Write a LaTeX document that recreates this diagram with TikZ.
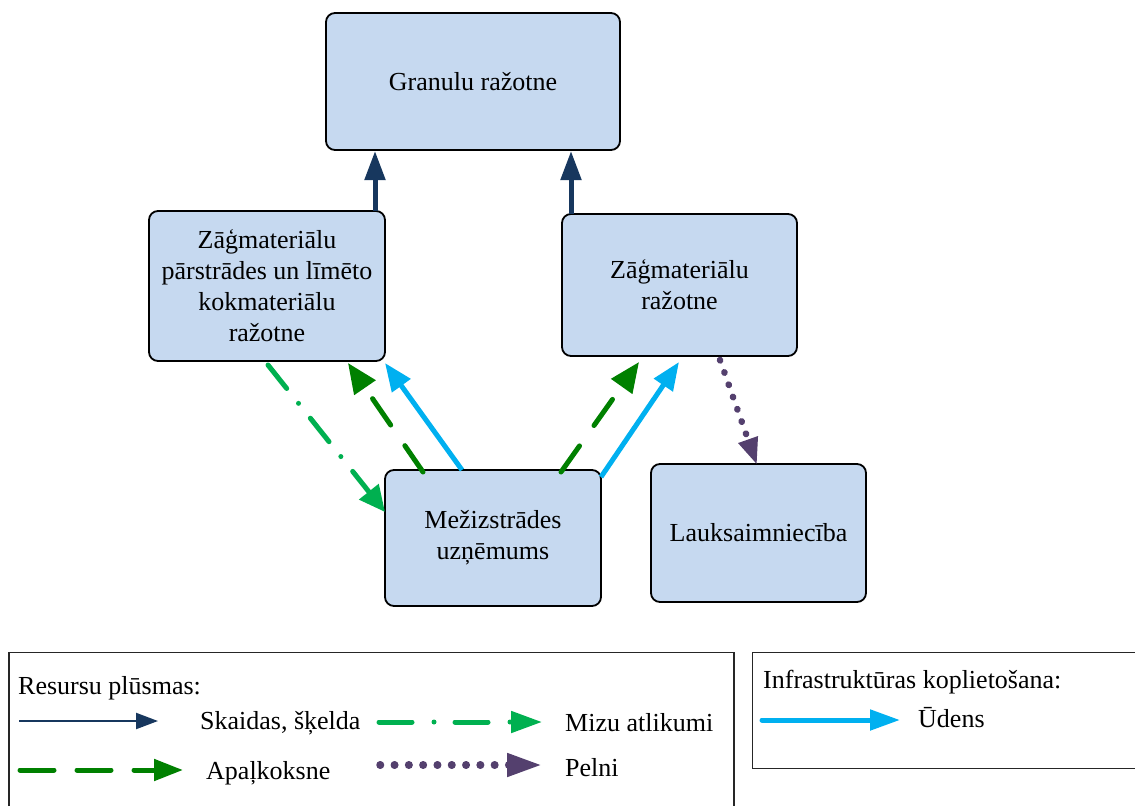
\documentclass[tikz,border=0pt]{standalone}
\usepackage{fontspec}
\setmainfont{Liberation Serif}
\usetikzlibrary{arrows.meta,calc}

\definecolor{boxblue}{HTML}{C6D9F0}
\definecolor{navy}{HTML}{17375E}
\definecolor{roundwood}{HTML}{008000}
\definecolor{barkgreen}{HTML}{00B050}
\definecolor{water}{HTML}{00B0F0}
\definecolor{ash}{HTML}{54406E}

\newcommand{\boxfont}{\fontsize{26}{31}\selectfont}
\newcommand{\legfont}{\fontsize{26}{30}\selectfont}

\tikzset{
  unit/.style={draw=black, line width=1.8pt, fill=boxblue, rounded corners=9pt,
    align=center, inner sep=0pt, outer sep=0pt, font=\boxfont},
  flow/.style={line width=5pt},
  chips/.style={flow, draw=navy, -{Triangle[length=29pt,width=20pt]}},
  logs/.style={flow, draw=roundwood, line cap=round, dash pattern=on 32pt off 25pt,
    -{Triangle[length=30pt,width=25pt]}},
  bark/.style={flow, draw=barkgreen, line cap=round,
    dash pattern=on 30pt off 19pt on 0pt off 19pt,
    -{Triangle[length=26pt,width=24pt]}},
  wateruse/.style={flow, draw=water, -{Triangle[length=28pt,width=22pt]}},
  ashes/.style={line width=6.5pt, draw=ash, line cap=round, dash pattern=on 0.5pt off 12.5pt,
    -{Triangle[length=27pt,width=19pt]}},
  legtext/.style={anchor=base west, inner sep=0pt, font=\legfont},
  frame/.style={draw=black!85, line width=1.2pt}
}

\begin{document}
\begin{tikzpicture}[x=1pt,y=-1pt]
\useasboundingbox (0,0) rectangle (1135,806);

% production units
\node[unit, minimum width=294pt, minimum height=137pt] (G) at (473,81.5) {Granulu ražotne};
\node[unit, minimum width=236pt, minimum height=150pt] (L) at (267,286)
  {Zāģmateriālu\\pārstrādes un līmēto\\kokmateriālu\\ražotne};
\node[unit, minimum width=235pt, minimum height=142pt] (R) at (679.5,285) {Zāģmateriālu\\ražotne};
\node[unit, minimum width=216pt, minimum height=136pt] (M) at (493,538) {Mežizstrādes\\uzņēmums};
\node[unit, minimum width=215pt, minimum height=138pt] (K) at (758.5,533) {Lauksaimniecība};

% chips and sawdust to the pellet plant
\draw[chips] ([xshift=-10pt]L.north east) -- ([xshift=49pt,yshift=-1pt]G.south west);
\draw[chips] ([xshift=9pt]R.north west) -- ([xshift=245pt,yshift=-1pt]G.south west);

% bark residues
\draw[bark] ([xshift=119pt,yshift=-4pt]L.south west) -- ([yshift=-42pt]M.north west);

% roundwood
\draw[logs] ([xshift=38pt,yshift=-2pt]M.north west) -- ([xshift=-37pt,yshift=-2pt]L.south east);
\draw[logs] ([xshift=-40pt,yshift=-2pt]M.north east) -- ([xshift=77pt,yshift=-6pt]R.south west);

% shared water
\draw[wateruse] ([xshift=77pt]M.north west) -- ([yshift=-2pt]L.south east);
\draw[wateruse] ([yshift=-7pt]M.north east) -- ([xshift=117pt,yshift=-6pt]R.south west);

% ash
\draw[ashes] ([xshift=158pt,yshift=-4pt]R.south west) -- ([xshift=106pt,yshift=-1pt]K.north west);

% legend frames
\draw[frame] (9,806) -- (9,652.5) -- (734,652.5) -- (734,806);
\draw[frame] (1135,652.5) -- (752.5,652.5) -- (752.5,768.5) -- (1135,768.5);

% legend: resource flows
\node[legtext] (t0) at (18,694) {Resursu plūsmas:};

\coordinate (a1) at (19,721);   \coordinate (b1) at (158,721);
\draw[navy, line width=2.2pt, -{Triangle[length=22pt,width=16pt]}] (a1) -- (b1);
\node[legtext] (t1) at (200,729) {Skaidas, šķelda};

\coordinate (a2) at (379,722);  \coordinate (b2) at (542,722);
\draw[barkgreen, line width=5pt, line cap=round,
  dash pattern=on 33pt off 22pt on 0pt off 21pt,
  -{Triangle[length=31pt,width=21pt]}] (a2) -- (b2);
\node[legtext] (t2) at (565,731) {Mizu atlikumi};

\coordinate (a3) at (20,770);   \coordinate (b3) at (183,770);
\draw[roundwood, line width=5pt, line cap=round, dash pattern=on 34pt off 23pt,
  -{Triangle[length=29pt,width=21pt]}] (a3) -- (b3);
\node[legtext] (t3) at (206,779) {Apaļkoksne};

\coordinate (a4) at (380,765);  \coordinate (b4) at (542,765);
\draw[ash, line width=7.5pt, line cap=round, dash pattern=on 0.5pt off 13.8pt,
  -{Triangle[length=35pt,width=22pt]}] (a4) -- (b4);
\node[legtext] (t4) at (565,776) {Pelni};

% legend: shared infrastructure
\node[legtext] (t5) at (763,688) {Infrastruktūras koplietošana:};
\coordinate (a5) at (762,720);  \coordinate (b5) at (900,720);
\draw[water, line width=5pt, line cap=round, -{Triangle[length=30pt,width=20pt]}] (a5) -- (b5);
\node[legtext] (t6) at (918,727) {Ūdens};

\end{tikzpicture}
\end{document}
